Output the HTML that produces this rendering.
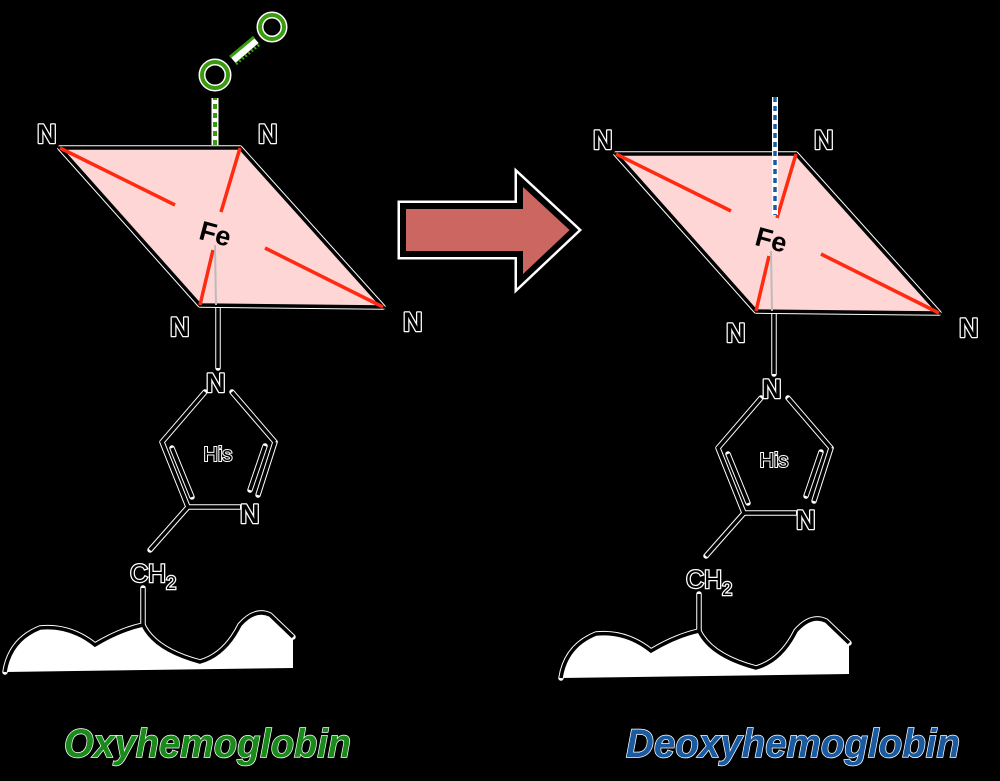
<!DOCTYPE html>
<html><head><meta charset="utf-8"><style>
html,body{margin:0;padding:0;background:#000;}
svg{display:block}
text{font-family:"Liberation Sans",sans-serif;}
.lbl{font-weight:bold;font-size:27px;fill:#000;stroke:#fff;stroke-width:2.5px;paint-order:stroke;stroke-linejoin:round}
</style></head><body>
<svg width="1000" height="781" viewBox="0 0 1000 781">
<defs>
<g id="mol">
  <path d="M5,672 Q10,640 40,628 Q70,625 95,645 Q120,630 143,625 Q155,650 200,662 Q225,655 240,625 Q255,608 270,615 L293,637 L293,668 L5,672 Z" fill="#fff"/>
  <g stroke="#fff" stroke-width="5.5" fill="none" stroke-linecap="round" stroke-linejoin="round">
    <polygon points="60,148 240,148 383,307 200,305"/>
    <line x1="218" y1="308" x2="218" y2="368"/>
    <polyline points="205,392 162,442 188,507 240,507"/>
    <line x1="172" y1="448" x2="192" y2="497"/>
    <line x1="232" y1="392" x2="275" y2="442"/><line x1="275" y1="442" x2="258" y2="495"/>
    <line x1="265" y1="446" x2="250" y2="490"/>
    <line x1="188" y1="507" x2="150" y2="550"/>
    <line x1="143" y1="588" x2="143" y2="625"/>
    <path d="M5,672 Q10,640 40,628 Q70,625 95,645 Q120,630 143,625 Q155,650 200,662 Q225,655 240,625 Q255,608 270,615 L293,637"/>
  </g>
  <polygon points="60,148 240,148 383,307 200,305" fill="#ffd6d6" stroke="#000" stroke-width="3.5"/>
  <g stroke="#ff2a10" stroke-width="3.5" fill="none">
    <line x1="60" y1="148" x2="175" y2="205"/>
    <line x1="240" y1="148" x2="221" y2="212"/>
    <line x1="200" y1="305" x2="213" y2="250"/>
    <line x1="383" y1="307" x2="265" y2="248"/>
  </g>
  <line x1="215" y1="245" x2="216" y2="305" stroke="#bbb" stroke-width="2"/>
  <text x="215" y="243" font-size="27" font-weight="bold" text-anchor="middle" transform="rotate(15 215 235)">Fe</text>
  <text class="lbl" x="37" y="143">N</text>
  <text class="lbl" x="258" y="143">N</text>
  <text class="lbl" x="170" y="336">N</text>
  <text class="lbl" x="403" y="331">N</text>
  <g stroke="#000" stroke-width="3.5" fill="none">
    <line x1="218" y1="308" x2="218" y2="368"/>
    <polyline points="205,392 162,442 188,507 240,507"/>
    <line x1="172" y1="448" x2="192" y2="497"/>
    <line x1="232" y1="392" x2="275" y2="442"/>
    <line x1="275" y1="442" x2="258" y2="495"/>
    <line x1="265" y1="446" x2="250" y2="490"/>
    <line x1="188" y1="507" x2="150" y2="550"/>
    <line x1="143" y1="588" x2="143" y2="625"/>
  </g>
  <text class="lbl" x="206" y="392">N</text>
  <text class="lbl" x="240" y="523">N</text>
  <text x="218" y="461" font-size="20" text-anchor="middle" fill="#000" stroke="#fff" stroke-width="2" paint-order="stroke">His</text>
  <text x="130" y="582" font-size="25" fill="#000" stroke="#fff" stroke-width="2.5" paint-order="stroke">CH<tspan font-size="18" dy="7">2</tspan></text>
  <path d="M5,672 Q10,640 40,628 Q70,625 95,645 Q120,630 143,625 Q155,650 200,662 Q225,655 240,625 Q255,608 270,615 L293,637" fill="none" stroke="#000" stroke-width="3.5"/>
</g>
</defs>
<use href="#mol"/>
<use href="#mol" transform="translate(556,6)"/>
<g>
  <line x1="215" y1="145" x2="215" y2="98" stroke="#fff" stroke-width="7"/>
  <line x1="215" y1="145" x2="215" y2="98" stroke="#3a9a10" stroke-width="4" stroke-dasharray="5,4"/>
  <circle cx="215" cy="75" r="13" fill="none" stroke="#fff" stroke-width="7"/>
  <circle cx="272" cy="27" r="12" fill="none" stroke="#fff" stroke-width="7"/>
  <line x1="233" y1="60" x2="256" y2="40" stroke="#fff" stroke-width="8"/>
  <circle cx="215" cy="75" r="13" fill="none" stroke="#3a9a10" stroke-width="4"/>
  <circle cx="272" cy="27" r="12" fill="none" stroke="#3a9a10" stroke-width="4"/>
  <line x1="230" y1="57" x2="254" y2="37" stroke="#3a9a10" stroke-width="3"/>
  <line x1="236" y1="64" x2="260" y2="44" stroke="#3a9a10" stroke-width="3" stroke-dasharray="2,2"/>
</g>
<g>
  <line x1="775" y1="97" x2="775" y2="215" stroke="#fff" stroke-width="6"/>
  <line x1="775" y1="97" x2="775" y2="215" stroke="#1a5aa0" stroke-width="3.5" stroke-dasharray="5,4"/>
</g>
<path d="M403,206 L520,206 L520,180 L574,230 L520,281 L520,254 L403,254 Z" fill="none" stroke="#fff" stroke-width="11" stroke-linejoin="miter"/>
<path d="M403,206 L520,206 L520,180 L574,230 L520,281 L520,254 L403,254 Z" fill="#cc6660" stroke="#000" stroke-width="6" stroke-linejoin="miter"/>
<text x="64" y="757" font-size="40" font-style="italic" font-weight="bold" fill="#1a8a1a" stroke="#fff" stroke-width="1.5" paint-order="stroke" textLength="287" lengthAdjust="spacingAndGlyphs">Oxyhemoglobin</text>
<text x="626" y="757" font-size="40" font-style="italic" font-weight="bold" fill="#1a5aa0" stroke="#fff" stroke-width="1.5" paint-order="stroke" textLength="334" lengthAdjust="spacingAndGlyphs">Deoxyhemoglobin</text>
</svg>
</body></html>
